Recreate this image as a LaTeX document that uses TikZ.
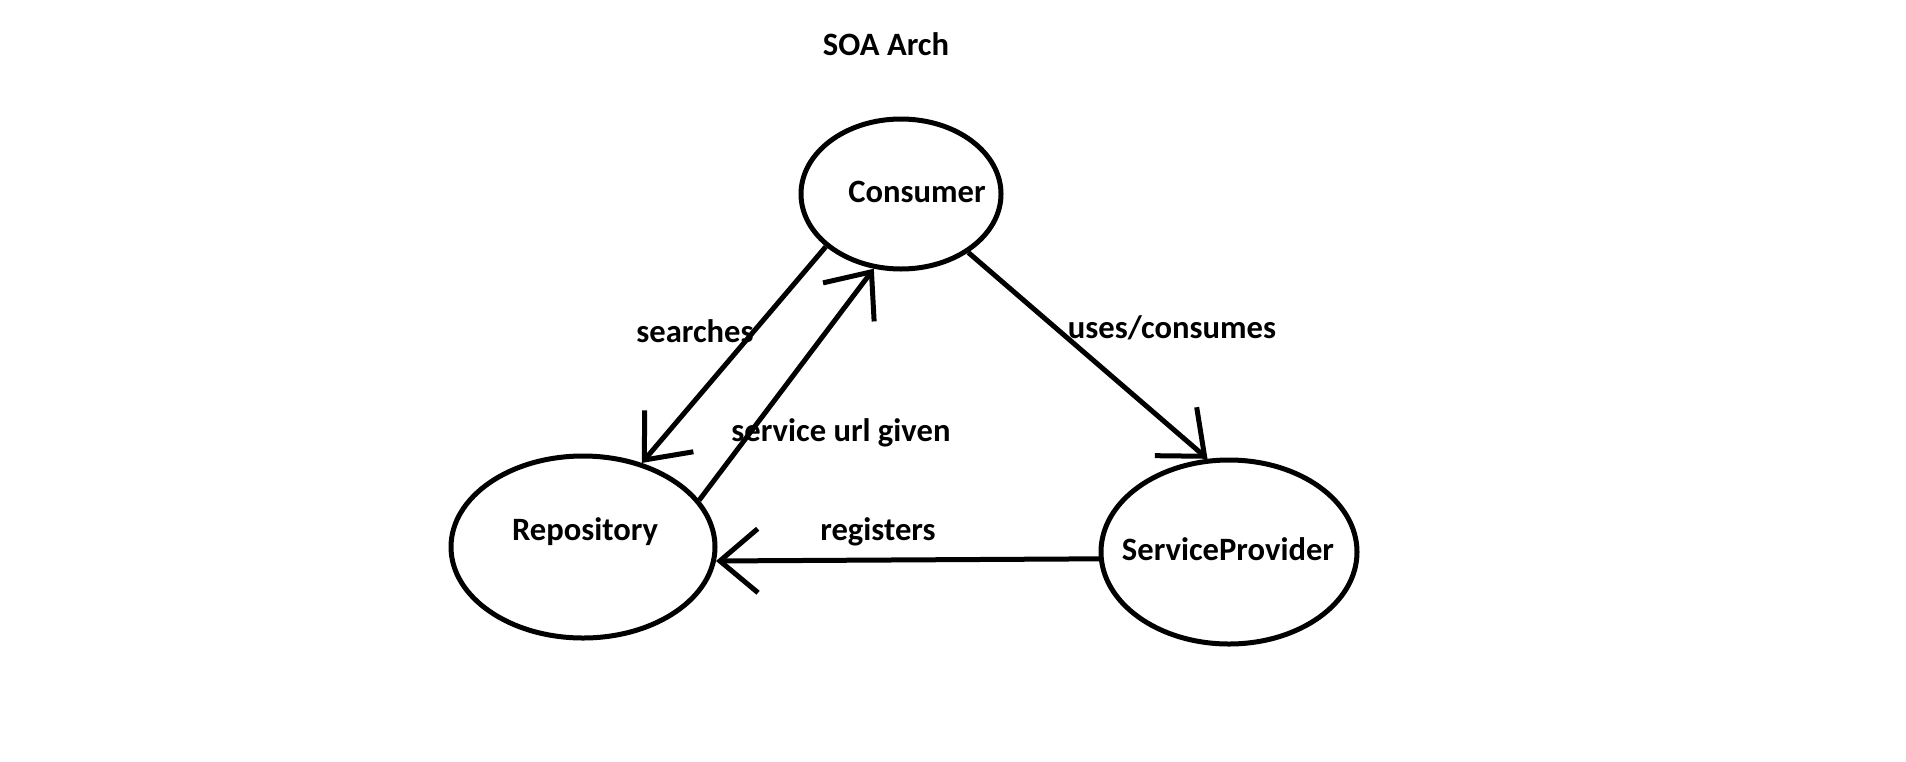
\documentclass[tikz,border=0pt]{standalone}
\usepackage{fontspec}
\setmainfont{Carlito}
\usetikzlibrary{shapes.geometric,arrows.meta}

\tikzset{
    soa/.style={ellipse, draw, inner sep=0pt},
    flow/.style={-{Straight Barb[length=19pt, width=32pt]}},
}

\begin{document}
\begin{tikzpicture}[x=0.5pt, y=-0.5pt, line width=2.5pt, font=\fontsize{16.3}{20}\selectfont\bfseries]
    \useasboundingbox (0,0) rectangle (1906,761);
    \node (title) at (886, 44) {SOA Arch};
    \node[soa, minimum width=100pt, minimum height=75pt] (con) at (901, 194) {};
    \node[soa, minimum width=132pt, minimum height=91pt] (rep) at (583, 547) {};
    \node[soa, minimum width=128pt, minimum height=92pt] (sp) at (1229, 552) {};
    \node (contxt) at (917, 192) {Consumer};
    \node (reptxt) at (585, 532) {Repository};
    \node (sptxt) at (1228, 549) {ServiceProvider};
    \draw[flow] (con.215.6) -- (rep.55);
    \draw[flow] (rep.22.9) -- (con.250.9);
    \draw[flow] (con.319.3) -- (sp.103.5);
    \draw[flow] (sp.183.1) -- (rep.354.3);
    \node (search) at (695, 331) {searches};
    \node (given) at (841, 433) {service url given};
    \node (uses) at (1172, 328) {uses/consumes};
    \node (regs) at (878, 532) {registers};
\end{tikzpicture}
\end{document}
